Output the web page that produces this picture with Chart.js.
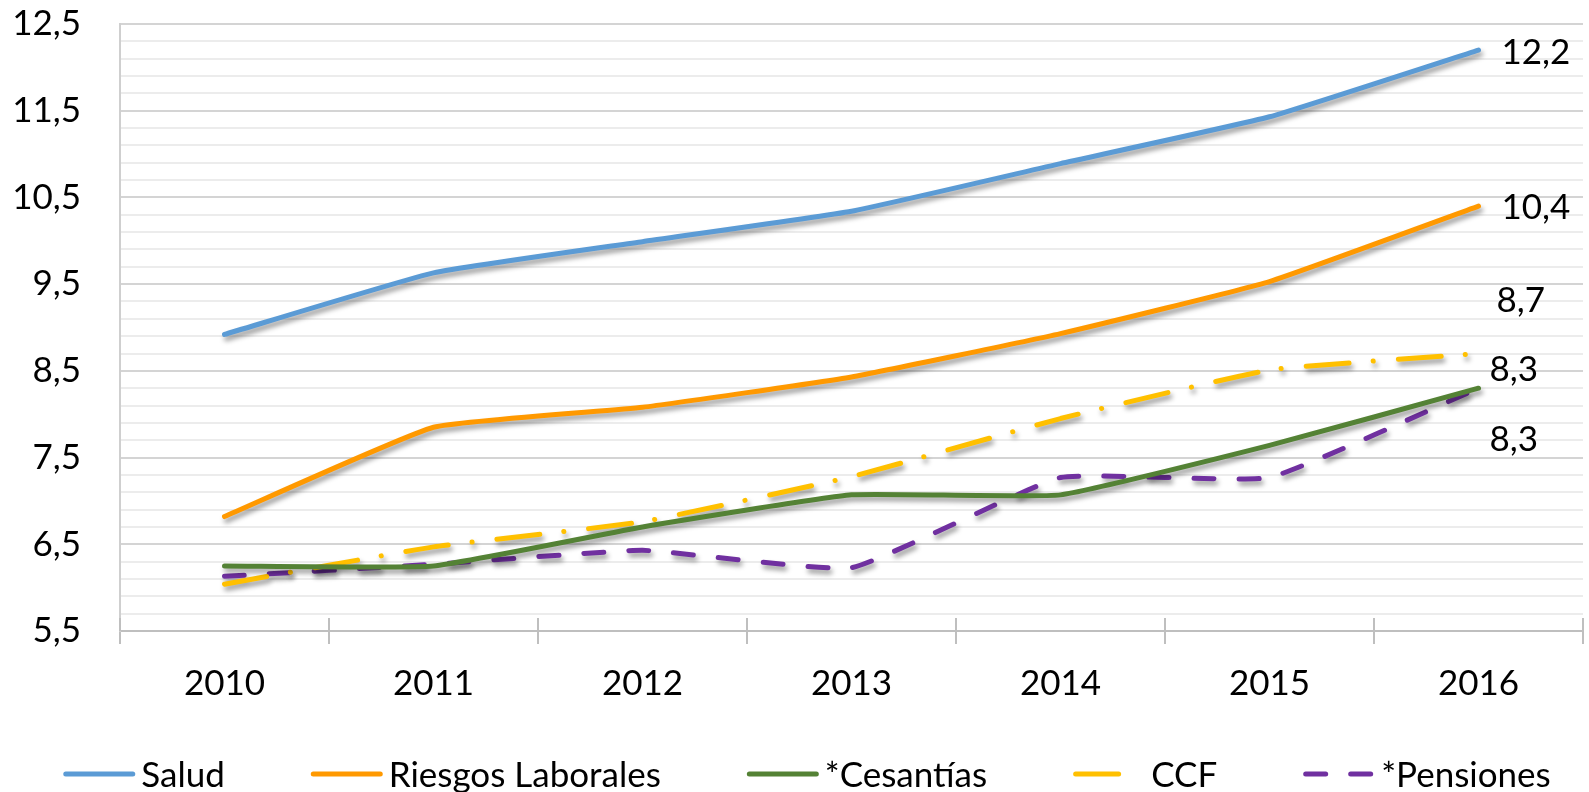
<!DOCTYPE html>
<html>
<head>
<meta charset="utf-8">
<script src="https://cdn.jsdelivr.net/npm/chart.js@4.4.1/dist/chart.umd.min.js"></script>
<style>
  html, body { margin: 0; padding: 0; background: #fff; }
  #wrap { width: 1589px; height: 792px; }
</style>
</head>
<body>
<div id="wrap"><canvas id="chart"></canvas></div>
<script>
// ---- datos ----
const years = ["2010", "2011", "2012", "2013", "2014", "2015", "2016"];
const salud = [8.92, 9.63, 9.99, 10.34, 10.89, 11.43, 12.2];
const riesgos = [6.82, 7.85, 8.08, 8.43, 8.93, 9.53, 10.4];
const cesantias = [6.25, 6.25, 6.70, 7.07, 7.07, 7.64, 8.3];
const ccf = [6.04, 6.47, 6.76, 7.28, 7.95, 8.51, 8.7];
const pensiones = [6.13, 6.27, 6.43, 6.23, 7.27, 7.27, 8.3];

const yTickLabels = ["5,5", "6,5", "7,5", "8,5", "9,5", "10,5", "11,5", "12,5"];
const yMin = 5.5, yMax = 12.5, yMinorStep = 0.2;

const FONT = "Lato";
const fmt = v => v.toFixed(1).replace(".", ",");
const isMajor = v => yTickLabels.includes(fmt(v));

// sombra suave bajo las lineas (como en Excel)
const shadowPlugin = {
  id: "shadow",
  beforeDatasetsDraw(chart) {
    const ctx = chart.ctx;
    ctx.save();
    ctx.shadowColor = "rgba(0,0,0,0.4)";
    ctx.shadowBlur = 5;
    ctx.shadowOffsetX = 2;
    ctx.shadowOffsetY = 4;
  },
  afterDatasetsDraw(chart) {
    chart.ctx.restore();
  }
};

// etiquetas del ultimo valor
const endLabelOffsets = [[23, 3], [23, 2], [11, -18], [18, -53], [11, 52]];
const endLabelPlugin = {
  id: "endLabels",
  afterDatasetsDraw(chart) {
    const ctx = chart.ctx;
    ctx.save();
    ctx.font = "35px " + FONT;
    ctx.fillStyle = "#000";
    ctx.textAlign = "left";
    ctx.textBaseline = "middle";
    chart.data.datasets.forEach((ds, i) => {
      const pts = chart.getDatasetMeta(i).data;
      const p = pts[pts.length - 1];
      const off = endLabelOffsets[i];
      ctx.fillText(fmt(ds.data[ds.data.length - 1]), p.x + off[0], p.y + off[1]);
    });
    ctx.restore();
  }
};

// marcas del eje x que cruzan la linea + leyenda propia
const axisLegendPlugin = {
  id: "axisLegend",
  afterDraw(chart) {
    const ctx = chart.ctx;
    const xs = chart.scales.x;
    const n = years.length;
    ctx.save();
    ctx.strokeStyle = "#bfbfbf";
    ctx.lineWidth = 2;
    for (let i = 0; i <= n; i++) {
      const x = Math.round(xs.left + i * (xs.right - xs.left) / n);
      ctx.beginPath();
      ctx.moveTo(x, xs.top - 13);
      ctx.lineTo(x, xs.top);
      ctx.stroke();
    }

    // leyenda
    ctx.font = "35px " + FONT;
    ctx.textBaseline = "alphabetic";
    ctx.textAlign = "left";
    const sample = 72, gapText = 6, gapItem = 86;
    const items = chart.data.datasets.map(ds => ({ ds, w: ctx.measureText(ds.label).width }));
    let total = items.reduce((s, it) => s + sample + gapText + it.w, 0) + gapItem * (items.length - 1);
    let x = 807 - total / 2;
    const lineY = 774, textY = 787;
    items.forEach(it => {
      ctx.save();
      ctx.strokeStyle = it.ds.borderColor;
      ctx.lineWidth = 5;
      ctx.lineCap = "round";
      ctx.setLineDash(it.ds.borderDash || []);
      ctx.beginPath();
      ctx.moveTo(x + 2.5, lineY);
      ctx.lineTo(x + sample - 2.5, lineY);
      ctx.stroke();
      ctx.restore();
      ctx.fillStyle = "#000";
      ctx.fillText(it.ds.label, x + sample + gapText, textY);
      x += sample + gapText + it.w + gapItem;
    });
    ctx.restore();
  }
};

const lineStyle = {
  borderWidth: 5,
  pointRadius: 0,
  pointHoverRadius: 0,
  tension: 0.12,
  borderCapStyle: "round",
  borderJoinStyle: "round",
  fill: false
};

new Chart(document.getElementById("chart"), {
  type: "line",
  data: {
    labels: years,
    datasets: [
      { ...lineStyle, label: "Salud", data: salud, borderColor: "#5B9BD5" },
      { ...lineStyle, label: "Riesgos Laborales", data: riesgos, borderColor: "#FF9900" },
      { ...lineStyle, label: "*Cesantías", data: cesantias, borderColor: "#548235" },
      { ...lineStyle, label: "CCF", data: ccf, borderColor: "#FFC000", borderDash: [43, 24, 0.1, 25] },
      { ...lineStyle, label: "*Pensiones", data: pensiones, borderColor: "#7030A0", borderDash: [20, 25] }
    ]
  },
  options: {
    responsive: true,
    maintainAspectRatio: false,
    devicePixelRatio: 1,
    animation: false,
    layout: { padding: { top: 24, right: 6, left: 0, bottom: 0 } },
    plugins: {
      legend: { display: false },
      tooltip: { enabled: false }
    },
    scales: {
      x: {
        type: "category",
        offset: true,
        grid: {
          offset: true,
          drawOnChartArea: false,
          drawTicks: true,
          tickLength: 13,
          color: "#bfbfbf",
          lineWidth: 2
        },
        border: { display: true, color: "#bfbfbf", width: 2 },
        ticks: { font: { family: FONT, size: 35 }, color: "#000", padding: 19, maxRotation: 0 },
        afterFit(scale) { scale.height = 161; }
      },
      y: {
        type: "linear",
        min: yMin,
        max: yMax,
        afterBuildTicks(scale) {
          const t = [];
          const steps = Math.round((yMax - yMin) / yMinorStep);
          for (let i = 0; i <= steps; i++) t.push({ value: +(yMin + i * yMinorStep).toFixed(1) });
          scale.ticks = t;
        },
        grid: {
          drawTicks: false,
          color: c => isMajor(c.tick.value) ? "#d4d4d4" : "#ececec",
          lineWidth: 2
        },
        border: { display: true, color: "#cfcfcf", width: 2 },
        ticks: {
          font: { family: FONT, size: 35 },
          color: "#000",
          padding: 39,
          autoSkip: false,
          callback: v => isMajor(v) ? fmt(v) : ""
        },
        afterFit(scale) {
          scale.width = 120;
          scale.paddingTop = 0;
          scale.paddingBottom = 0;
        }
      }
    }
  },
  plugins: [shadowPlugin, endLabelPlugin, axisLegendPlugin]
});
</script>
</body>
</html>
